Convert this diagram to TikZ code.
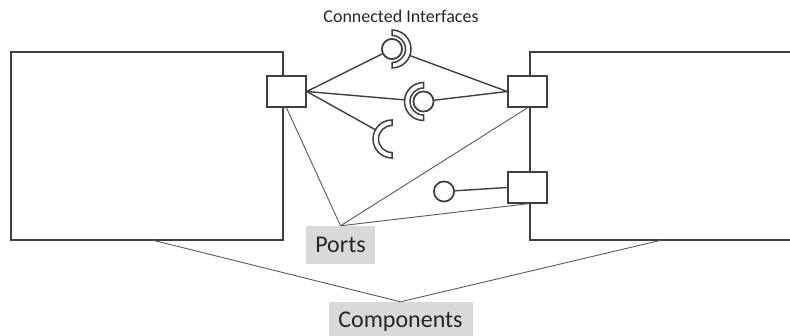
\documentclass[tikz,border=0pt]{standalone}
\usepackage{fontspec}
\setmainfont{Carlito}
\definecolor{edge}{HTML}{3F3F3F}
\definecolor{faint}{HTML}{595959}
\definecolor{labelfill}{HTML}{D9D9D9}
\definecolor{ink}{HTML}{262626}
\tikzset{
  compbox/.style={draw=edge, line width=2pt, fill=white},
  portbox/.style={draw=edge, line width=1.6pt, fill=white, minimum width=39pt, minimum height=31pt, inner sep=0pt},
  ball/.style={circle, draw=edge, line width=1.6pt, fill=white, minimum size=20pt, inner sep=0pt},
  sockzone/.style={circle, minimum size=38pt, inner sep=0pt},
  socket/.style={draw=edge, line width=1.5pt, fill=white, line join=miter},
  conn/.style={draw=edge, line width=1.4pt},
  pointer/.style={draw=faint, line width=0.9pt},
  tag/.style={fill=labelfill, text=ink, inner sep=0pt, font=\fontsize{24}{28}\selectfont},
}
\begin{document}
\begin{tikzpicture}[x=1pt, y=-1pt]
\useasboundingbox (0,0) rectangle (790,336);
\clip (0,0) rectangle (790,336);

% components
\draw[compbox] (11,52) rectangle (283,240);
\draw[compbox] (530,52) rectangle (820,240);
\coordinate (cl) at (152,240);
\coordinate (cr) at (662,240);

% ports
\node[portbox] (lp)  at (286.5,91.5) {};
\node[portbox] (rp1) at (527.5,91.5) {};
\node[portbox] (rp2) at (527.5,187.5) {};

% interface zones (outer radius of each socket)
\node[sockzone] (s1) at (392,49) {};
\node[sockzone] (s2) at (423.5,101.5) {};
\node[sockzone] (s3) at (392,139) {};

% connectors
\node[ball] (b1) at (392,49) {};
\node[ball] (b2) at (423.5,101.5) {};
\node[ball] (b4) at (444,191.5) {};
\draw[conn] (lp.east) -- (b1);
\draw[conn] (s1) -- (rp1.west);
\draw[conn] (lp.east) -- (s2);
\draw[conn] (b2) -- (rp1.west);
\draw[conn] (lp.east) -- (s3);
\draw[conn] (b4) -- (rp2.west);

% balls over connectors
\node[ball] at (b1) {};
\node[ball] at (b2) {};
\node[ball] at (b4) {};

% sockets (half rings)
\draw[socket] (392,30) arc[start angle=-90, end angle=90, radius=19]
  -- (392,62.5) arc[start angle=90, end angle=-90, radius=13.5] -- cycle;
\draw[socket] (423.5,82.5) arc[start angle=-90, end angle=-270, radius=19]
  -- (423.5,115) arc[start angle=-270, end angle=-90, radius=13.5] -- cycle;
\draw[socket] (392,120) arc[start angle=-90, end angle=-270, radius=19]
  -- (392,152.5) arc[start angle=-270, end angle=-90, radius=13.5] -- cycle;

% labels
\node[text=ink, font=\fontsize{18}{22}\selectfont] (ci) at (401,16) {Connected Interfaces};
\node[tag, minimum width=69pt, minimum height=38pt] (pl) at (340.5,245) {Ports};
\node[tag, minimum width=144pt, minimum height=40pt] (cmp) at (400.5,322) {Components};

\draw[pointer] (pl.north) -- (lp.south);
\draw[pointer] (pl.north) -- (rp1.south);
\draw[pointer] (pl.north) -- (rp2.south);
\draw[pointer] (cmp.north) -- (cl);
\draw[pointer] (cmp.north) -- (cr);
\end{tikzpicture}
\end{document}
